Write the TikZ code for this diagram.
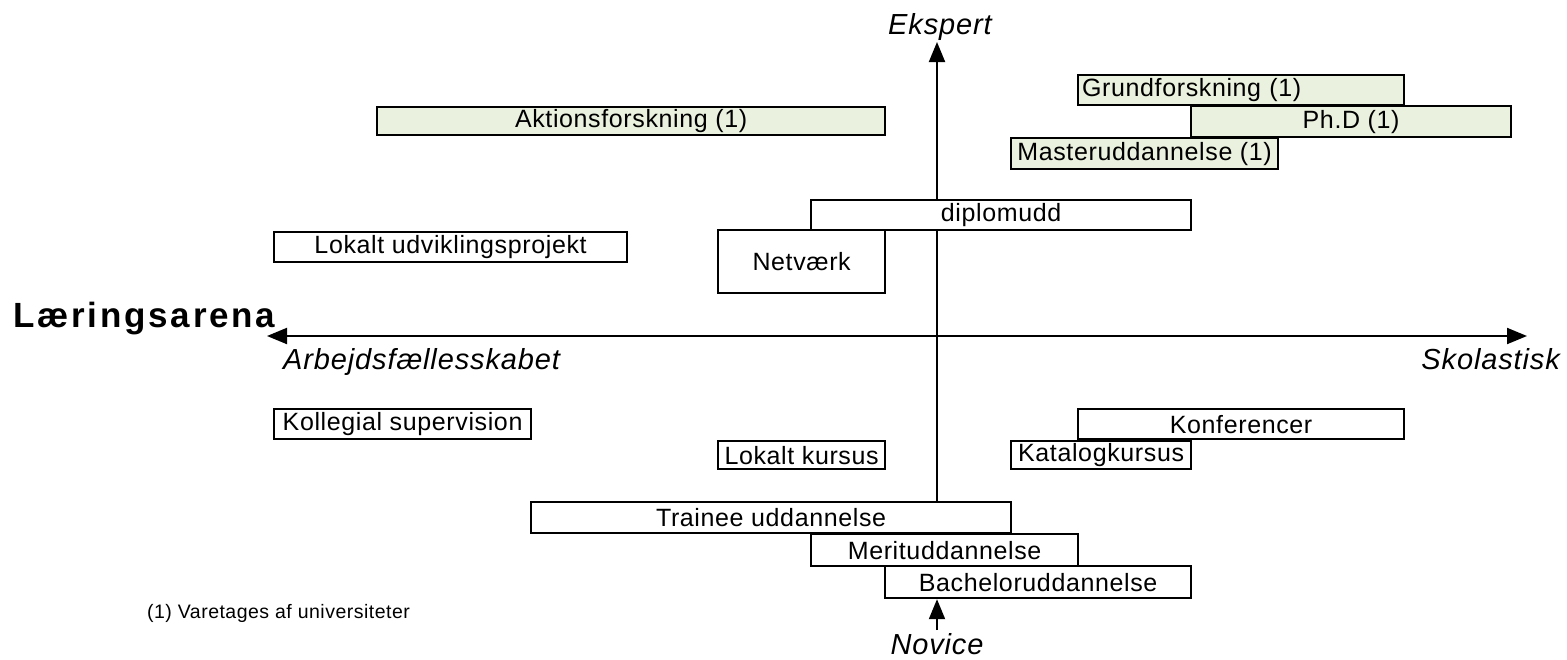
\documentclass[tikz,border=0pt]{standalone}
\usepackage{fontspec}
\setmainfont{Liberation Sans}
\newfontfamily\boxfont{Liberation Sans}[LetterSpace=2.5]
\newfontfamily\axfont{Liberation Sans}[LetterSpace=3]
\newfontfamily\titlefont{Liberation Sans}[LetterSpace=8]
\usetikzlibrary{arrows.meta}
\definecolor{lightgreen}{RGB}{234,241,222}
\pgfdeclarelayer{bg}
\pgfsetlayers{bg,main}
\tikzset{
  box/.style={draw=black, line width=2.2pt, fill=white, inner sep=0pt,
    font=\boxfont\fontsize{25}{28}\selectfont},
  gbox/.style={fill=lightgreen},
  axis/.style={line width=2pt, -{Triangle[length=20pt,width=16pt]}},
  axlab/.style={inner sep=0pt, font=\axfont\itshape\fontsize{29}{32}\selectfont},
  titlelab/.style={inner sep=0pt, font=\titlefont\bfseries\fontsize{35}{38}\selectfont},
  notelab/.style={inner sep=0pt, font=\boxfont\fontsize{19.5}{22}\selectfont},
}
\newcommand\bx[7]{\node[box,#6,anchor=north west,minimum width={(#4-#2)*1pt},minimum height={(#5-#3)*1pt}] (#1) at (#2,#3) {#7};}
\begin{document}
\begin{tikzpicture}[x=1pt,y=-1pt]
\useasboundingbox (0,0) rectangle (1567,659);
% boxes
\bx{aktion}{376}{106}{884}{134}{gbox}{Aktionsforskning (1)}
\bx{grund}{1077}{74}{1403}{104}{gbox,align=left,text width=318pt}{Grundforskning (1)}
\bx{phd}{1190}{105}{1510}{136}{gbox}{Ph.D (1)}
\bx{master}{1010}{137}{1277}{168}{gbox}{Masteruddannelse (1)}
\bx{diplom}{810}{199}{1190}{229}{}{diplomudd}
\bx{netv}{717}{229}{884}{292}{}{Netværk}
\bx{lokudv}{273}{231}{626}{261}{}{Lokalt udviklingsprojekt}
\bx{koll}{273}{408}{530}{438}{}{Kollegial supervision}
\bx{konf}{1077}{408}{1403}{438}{}{Konferencer}
\bx{lokkurs}{717}{440}{884}{468}{}{Lokalt kursus}
\bx{katalog}{1010}{440}{1190}{468}{}{Katalogkursus}
\bx{trainee}{530}{501}{1010}{532}{}{Trainee uddannelse}
\bx{merit}{810}{533}{1077}{565}{}{Merituddannelse}
\bx{bachelor}{884}{565}{1190}{597}{}{Bacheloruddannelse}
% labels
\node[axlab, anchor=base] (ekspert) at (940,34) {Ekspert};
\node[axlab, anchor=base] (novice) at (937,654) {Novice};
\node[axlab, anchor=base west] (arbejd) at (283,369) {Arbejdsfællesskabet};
\node[axlab, anchor=base east] (skol) at (1560,369) {Skolastisk};
\node[titlelab, anchor=base west] (arena) at (13,327) {Læringsarena};
\node[notelab, anchor=base west] (note) at (147,618) {(1) Varetages af universiteter};
% axes
\coordinate (vx) at (937,0);
\coordinate (etip) at (937,42);
\coordinate (ntail) at (937,630);
\coordinate (ltip) at (267,336);
\coordinate (rtip) at (1527,336);
\begin{pgfonlayer}{bg}
\draw[axis] (trainee.north -| vx) -- (etip);
\draw[axis] (ntail) -- (bachelor.south -| vx);
\draw[axis, {Triangle[length=20pt,width=16pt]}-{Triangle[length=20pt,width=16pt]}] (ltip) -- (rtip);
\end{pgfonlayer}
\end{tikzpicture}
\end{document}
